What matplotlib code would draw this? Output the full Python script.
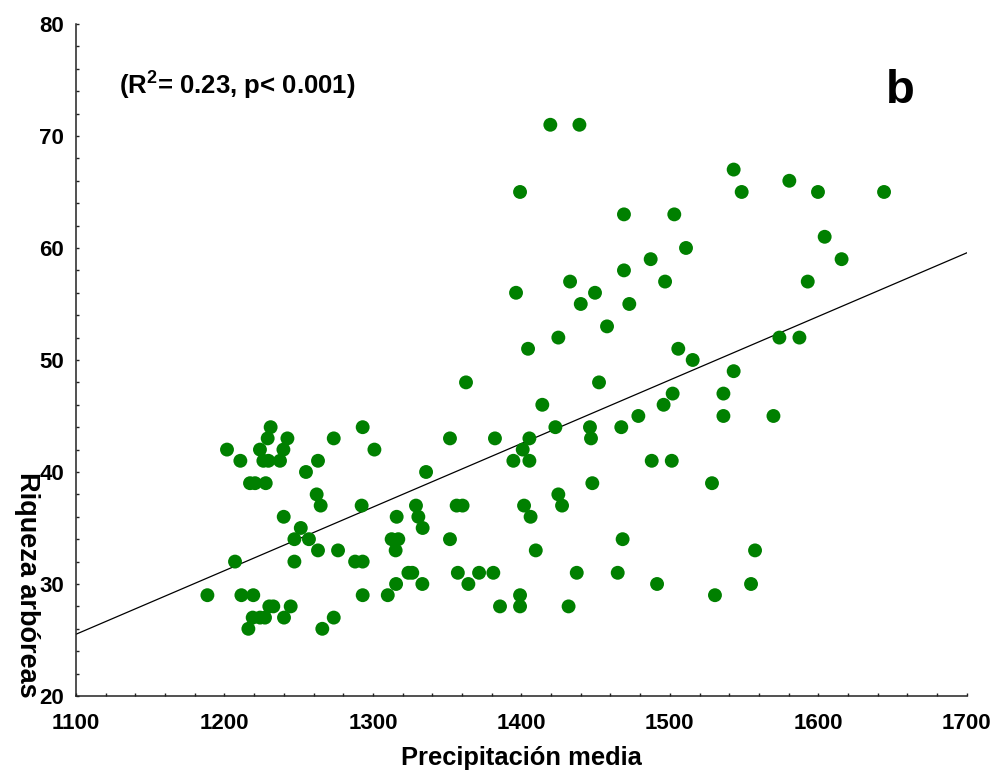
import numpy as np
import matplotlib
matplotlib.use("Agg")
import matplotlib.pyplot as plt
from matplotlib.ticker import MultipleLocator

plt.rcParams['font.family'] = ['Liberation Sans', 'DejaVu Sans']
plt.rcParams['font.weight'] = 'bold'
plt.rcParams['mathtext.fontset'] = 'custom'
plt.rcParams['mathtext.bf'] = 'Liberation Sans:bold'
plt.rcParams['mathtext.rm'] = 'Liberation Sans:bold'

# precipitation (x) and tree richness (y)
precip = [
    1419.5, 1439.1,
    1543.0,
    1580.5,
    1399.1, 1548.4, 1599.8, 1644.3,
    1469.1, 1503.0,
    1604.3,
    1510.9,
    1487.1, 1615.7,
    1469.1,
    1432.8, 1496.8, 1592.9,
    1396.4, 1449.6,
    1440.0, 1472.7,
    1457.7,
    1424.9, 1573.8, 1587.3,
    1404.5, 1505.7,
    1515.4,
    1543.0,
    1362.7, 1452.3,
    1501.9, 1536.1,
    1414.1, 1495.8,
    1478.8, 1536.1, 1569.8,
    1231.1, 1293.1, 1422.9, 1446.2, 1467.3,
    1229.1, 1242.4, 1273.6, 1351.9, 1382.2, 1405.4, 1446.9,
    1201.7, 1223.9, 1239.7, 1301.0, 1400.9,
    1210.7, 1226.2, 1229.6, 1237.4, 1263.0, 1394.6, 1405.4, 1487.8, 1501.3,
    1254.9, 1335.8,
    1217.2, 1220.6, 1227.8, 1447.8, 1528.4,
    1262.1, 1424.9,
    1264.8, 1292.4, 1329.0, 1356.4, 1360.4, 1401.8, 1427.4,
    1239.9, 1316.0, 1330.6, 1406.2,
    1251.4, 1333.5,
    1247.1, 1256.9, 1312.6, 1317.1, 1351.9, 1468.2,
    1263.0, 1276.5, 1315.3, 1409.7, 1557.4,
    1207.1, 1247.1, 1288.0, 1293.1,
    1323.9, 1326.5, 1357.2, 1371.5, 1381.1, 1437.3, 1464.9,
    1315.6, 1333.3, 1364.3, 1491.4, 1554.7,
    1188.5, 1211.4, 1219.4, 1293.1, 1310.0, 1399.1, 1530.4,
    1230.2, 1232.9, 1244.6, 1385.6, 1399.1, 1431.8,
    1219.0, 1224.0, 1227.3, 1240.1, 1273.6,
    1216.1, 1265.9,
]
riqueza = (
    [71] * 2 + [67] + [66] + [65] * 4 + [63] * 2 + [61] + [60] + [59] * 2
    + [58] + [57] * 3 + [56] * 2 + [55] * 2 + [53] + [52] * 3 + [51] * 2
    + [50] + [49] + [48] * 2 + [47] * 2 + [46] * 2 + [45] * 3 + [44] * 5
    + [43] * 7 + [42] * 5 + [41] * 9 + [40] * 2 + [39] * 5 + [38] * 2
    + [37] * 7 + [36] * 4 + [35] * 2 + [34] * 6 + [33] * 5 + [32] * 4
    + [31] * 7 + [30] * 5 + [29] * 7 + [28] * 6 + [27] * 5 + [26] * 2
)

x = np.array(precip)
y = np.array(riqueza, dtype=float)

fig = plt.figure(figsize=(9.99, 7.78), dpi=100)
ax = fig.add_axes([0.0761, 0.1054, 0.8916, 0.8638])

ax.scatter(x, y, s=100, color='#008000', edgecolors='none', zorder=3)

# least squares fit
slope, intercept = np.polyfit(x, y, 1)
xl = np.array([1100, 1700])
ax.plot(xl, intercept + slope * xl, color='black', linewidth=0.9, zorder=2)

ax.set_xlim(1100, 1700)
ax.set_ylim(20, 80)
ax.xaxis.set_major_locator(MultipleLocator(100))
ax.xaxis.set_minor_locator(MultipleLocator(20))
ax.yaxis.set_major_locator(MultipleLocator(10))
ax.yaxis.set_minor_locator(MultipleLocator(2))

for side in ['top', 'right']:
    ax.spines[side].set_visible(False)
for side in ['left', 'bottom']:
    ax.spines[side].set_linewidth(1.1)
    ax.spines[side].set_color('#222222')

ax.tick_params(which='both', direction='in', length=2.2, width=1, color='#222222')
ax.tick_params(axis='x', which='major', pad=12, labelsize=16)
ax.tick_params(axis='y', which='major', pad=8.5, labelsize=16)
for lab in ax.get_xticklabels() + ax.get_yticklabels():
    lab.set_fontweight('bold')

ax.set_xlabel('Precipitación media', fontsize=18.4, fontweight='bold')
ax.xaxis.set_label_coords(0.5, -0.075)
ax.text(-0.0553, 0.166, 'Riqueza arbóreas', transform=ax.transAxes,
        rotation=270, ha='center', va='center', fontsize=19.5, fontweight='bold')

ax.text(0.048, 0.897, r'(R$^{\mathbf{2}}$= 0.23, p< 0.001)', transform=ax.transAxes,
        ha='left', va='baseline', fontsize=18.5, fontweight='bold')
ax.text(0.909, 0.883, 'b', transform=ax.transAxes,
        ha='left', va='baseline', fontsize=34, fontweight='bold')

fig.savefig('out.png', dpi=100)
